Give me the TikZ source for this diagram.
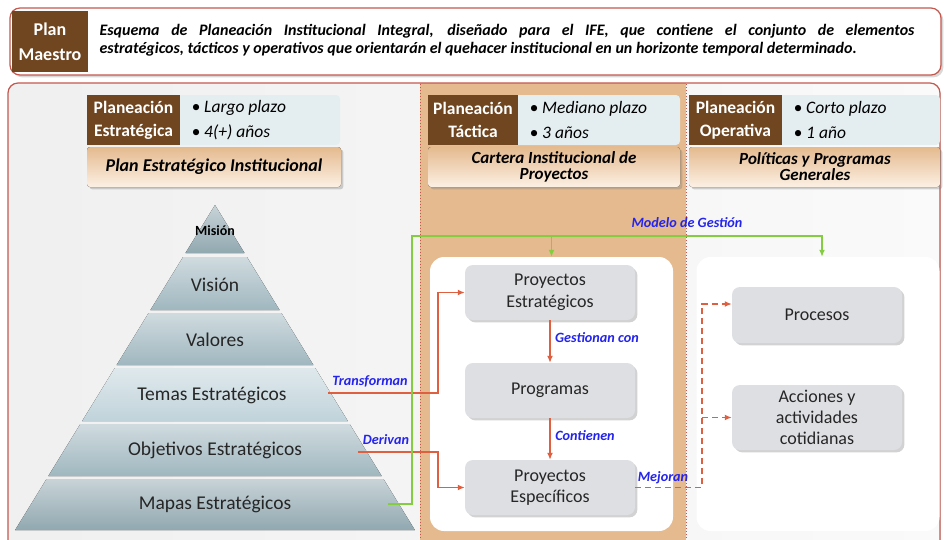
\documentclass[tikz,border=0pt]{standalone}
\usepackage{fontspec}
\setmainfont{Carlito}
\usetikzlibrary{shadows,arrows.meta}
\definecolor{cafe}{RGB}{112,70,32}
\definecolor{borde}{RGB}{196,88,78}
\definecolor{arena}{RGB}{228,186,142}
\definecolor{crema}{RGB}{252,240,228}
\definecolor{celeste}{RGB}{228,237,239}
\definecolor{flecha}{RGB}{222,96,64}
\definecolor{verde}{RGB}{132,204,64}
\definecolor{azul}{RGB}{36,36,236}
\definecolor{caja}{RGB}{222,223,227}
\definecolor{piedraA}{RGB}{145,168,176}
\definecolor{piedraB}{RGB}{160,183,191}
\definecolor{piedraC}{RGB}{192,211,218}
\tikzset{
  marco/.style={draw=borde, line width=1.2pt, rounded corners=10pt},
  cafebox/.style={fill=cafe, text=white, font=\fontsize{17.5}{23}\selectfont\bfseries, align=center, inner sep=0pt},
  plazo/.style={fill=celeste, rounded corners=4pt},
  bala/.style={font=\fontsize{17.5}{25}\selectfont\itshape, align=left, anchor=west},
  franja/.style={top color=arena, bottom color=crema, rounded corners=3pt, drop shadow={opacity=0.35}},
  caja/.style={fill=caja, rounded corners=8pt, minimum width=170pt, align=center, font=\fontsize{18}{21.5}\selectfont, text=black!85, drop shadow={opacity=0.35}},
  panel/.style={fill=white, rounded corners=14pt, minimum width=243pt, minimum height=274pt},
  piso/.style={font=\fontsize{19.5}{22}\selectfont, text=black!85},
  etiqueta/.style={text=azul, font=\fontsize{14.2}{16}\selectfont\bfseries\itshape},
  roja/.style={draw=flecha, line width=1.6pt, -{Latex[length=7pt,width=6pt]}},
}
\begin{document}
\begin{tikzpicture}[x=1pt,y=-1pt]
\clip (0,0) rectangle (946,539);
\fill[white] (0,0) rectangle (946,539);

\draw[marco, fill=white, drop shadow={opacity=0.3}] (10,8) rectangle (941,75);
\fill[cafe] (12,11) rectangle (88,72);
\node[cafebox, font=\fontsize{18}{25}\selectfont\bfseries] (pm) at (50,42) {Plan\\Maestro};
\node[font=\fontsize{16}{18.5}\selectfont\bfseries\itshape, text width=815pt, align=justify, anchor=west] (def) at (96,40)
  {Esquema de Planeación Institucional Integral, diseñado para el IFE, que contiene el conjunto de elementos\linebreak estratégicos, tácticos y operativos que orientarán el quehacer institucional en un horizonte temporal determinado.};

\fill[left color=gray!12, right color=gray!4, rounded corners=10pt] (8,83) rectangle (940,560);
\fill[arena] (420,83) rectangle (686,560);
\draw[borde, dotted, line width=1pt] (420,84) -- (420,560) (686,84) -- (686,560);
\draw[marco] (8,83) rectangle (940,560);

\fill[plazo] (87,95) rectangle (340,145);
\fill[cafe] (87,95) rectangle (180,145);
\node[cafebox] (pe1) at (133.5,120) {Planeación\\Estratégica};
\node[bala] (lp) at (188,120) {\textbullet\ Largo plazo\\\textbullet\ 4(+) años};
\fill[franja] (87,147) rectangle (341,187);
\node[font=\fontsize{18}{20}\selectfont\bfseries\itshape] (pei) at (214,167) {Plan Estratégico Institucional};

\fill[plazo] (428,95) rectangle (680,145);
\fill[cafe] (428,95) rectangle (518,145);
\node[cafebox] (pt) at (473,120) {Planeación\\Táctica};
\node[bala] (mp) at (526,120) {\textbullet\ Mediano plazo\\\textbullet\ 3 años};
\fill[franja] (428,147) rectangle (680,187);
\node[font=\fontsize{17}{16}\selectfont\bfseries\itshape, align=center] (cip) at (554,167) {Cartera Institucional de\\Proyectos};

\fill[plazo] (689,95) rectangle (940,145);
\fill[cafe] (689,95) rectangle (782,145);
\node[cafebox] (po) at (735.5,120) {Planeación\\Operativa};
\node[bala] (cp) at (790,120) {\textbullet\ Corto plazo\\\textbullet\ 1 año};
\fill[franja] (689,147) rectangle (940,187);
\node[font=\fontsize{17}{16}\selectfont\bfseries\itshape, align=center] (ppg) at (815,167) {Políticas y Programas\\Generales};

\node[panel] (panelM) at (551.5,394) {};
\node[panel] (panelR) at (818,394) {};

\foreach \a/\b/\c in {205/253/piedraA, 257/310/piedraB, 313/365/piedraB, 368/421/piedraC, 424/476/piedraB, 479/530/piedraA}
  \fill[top color=\c!50!white, bottom color=\c] (215-0.615*\a+126.1,\a) -- (215+0.615*\a-126.1,\a) -- (215+0.615*\b-126.1,\b) -- (215-0.615*\b+126.1,\b) -- cycle;
\node[font=\fontsize{14}{15}\selectfont\bfseries] (mis) at (215,231) {Misión};
\node[piso] (vis) at (215,285) {Visión};
\node[piso] (val) at (215,340) {Valores};
\node[piso] (tem) at (212,395) {Temas Estratégicos};
\node[piso] (obj) at (215,450) {Objetivos Estratégicos};
\node[piso] (map) at (215,504) {Mapas Estratégicos};
\coordinate (temR) at (328,393);
\coordinate (objR) at (358,452);
\coordinate (mapR) at (388,504);

\node[caja, minimum height=55pt] (pe) at (550,292.5) {Proyectos\\Estratégicos};
\node[caja, minimum height=55pt] (prog) at (550,390.5) {Programas};
\node[caja, minimum height=55pt] (pesp) at (550,487.5) {Proyectos\\Específicos};
\node[caja, minimum height=56pt] (proc) at (817,315) {Procesos};
\node[caja, minimum height=65pt, font=\fontsize{18}{21}\selectfont] (acc) at (817,417.5) {Acciones y\\actividades\\cotidianas};

\draw[roja] (temR) -| ([xshift=-27pt]pe.west) -- (pe.west);
\draw[roja] (objR) -| ([xshift=-27pt]pesp.west) -- (pesp.west);
\draw[roja] (pe.south) -- (prog.north);
\draw[roja] (prog.south) -- (pesp.north);
\coordinate (mej) at (702,304);
\draw[roja, dashed, dash pattern=on 6pt off 4pt] (pesp.east) -| (mej) -- (mej -| proc.west);
\draw[roja, dashed, dash pattern=on 6pt off 4pt] (mej |- acc.west) -- (acc.west);

\coordinate (giro) at (412,236);
\draw[verde, line width=1.4pt, -{Latex[length=7pt,width=6pt]}] (mapR) -| (giro) -| ([xshift=4pt]panelR.north);
\draw[verde, line width=1.4pt, -{Latex[length=7pt,width=6pt]}] (giro -| panelM.north) -- (panelM.north);

\node[etiqueta] (tr) at (370,381) {Transforman};
\node[etiqueta] (de) at (386,440) {Derivan};
\node[etiqueta] (mg) at (687,223) {Modelo de Gestión};
\node[etiqueta] (gc) at (597,338) {Gestionan con};
\node[etiqueta] (co) at (585,436) {Contienen};
\node[etiqueta] (me) at (663,478) {Mejoran};
\end{tikzpicture}
\end{document}
